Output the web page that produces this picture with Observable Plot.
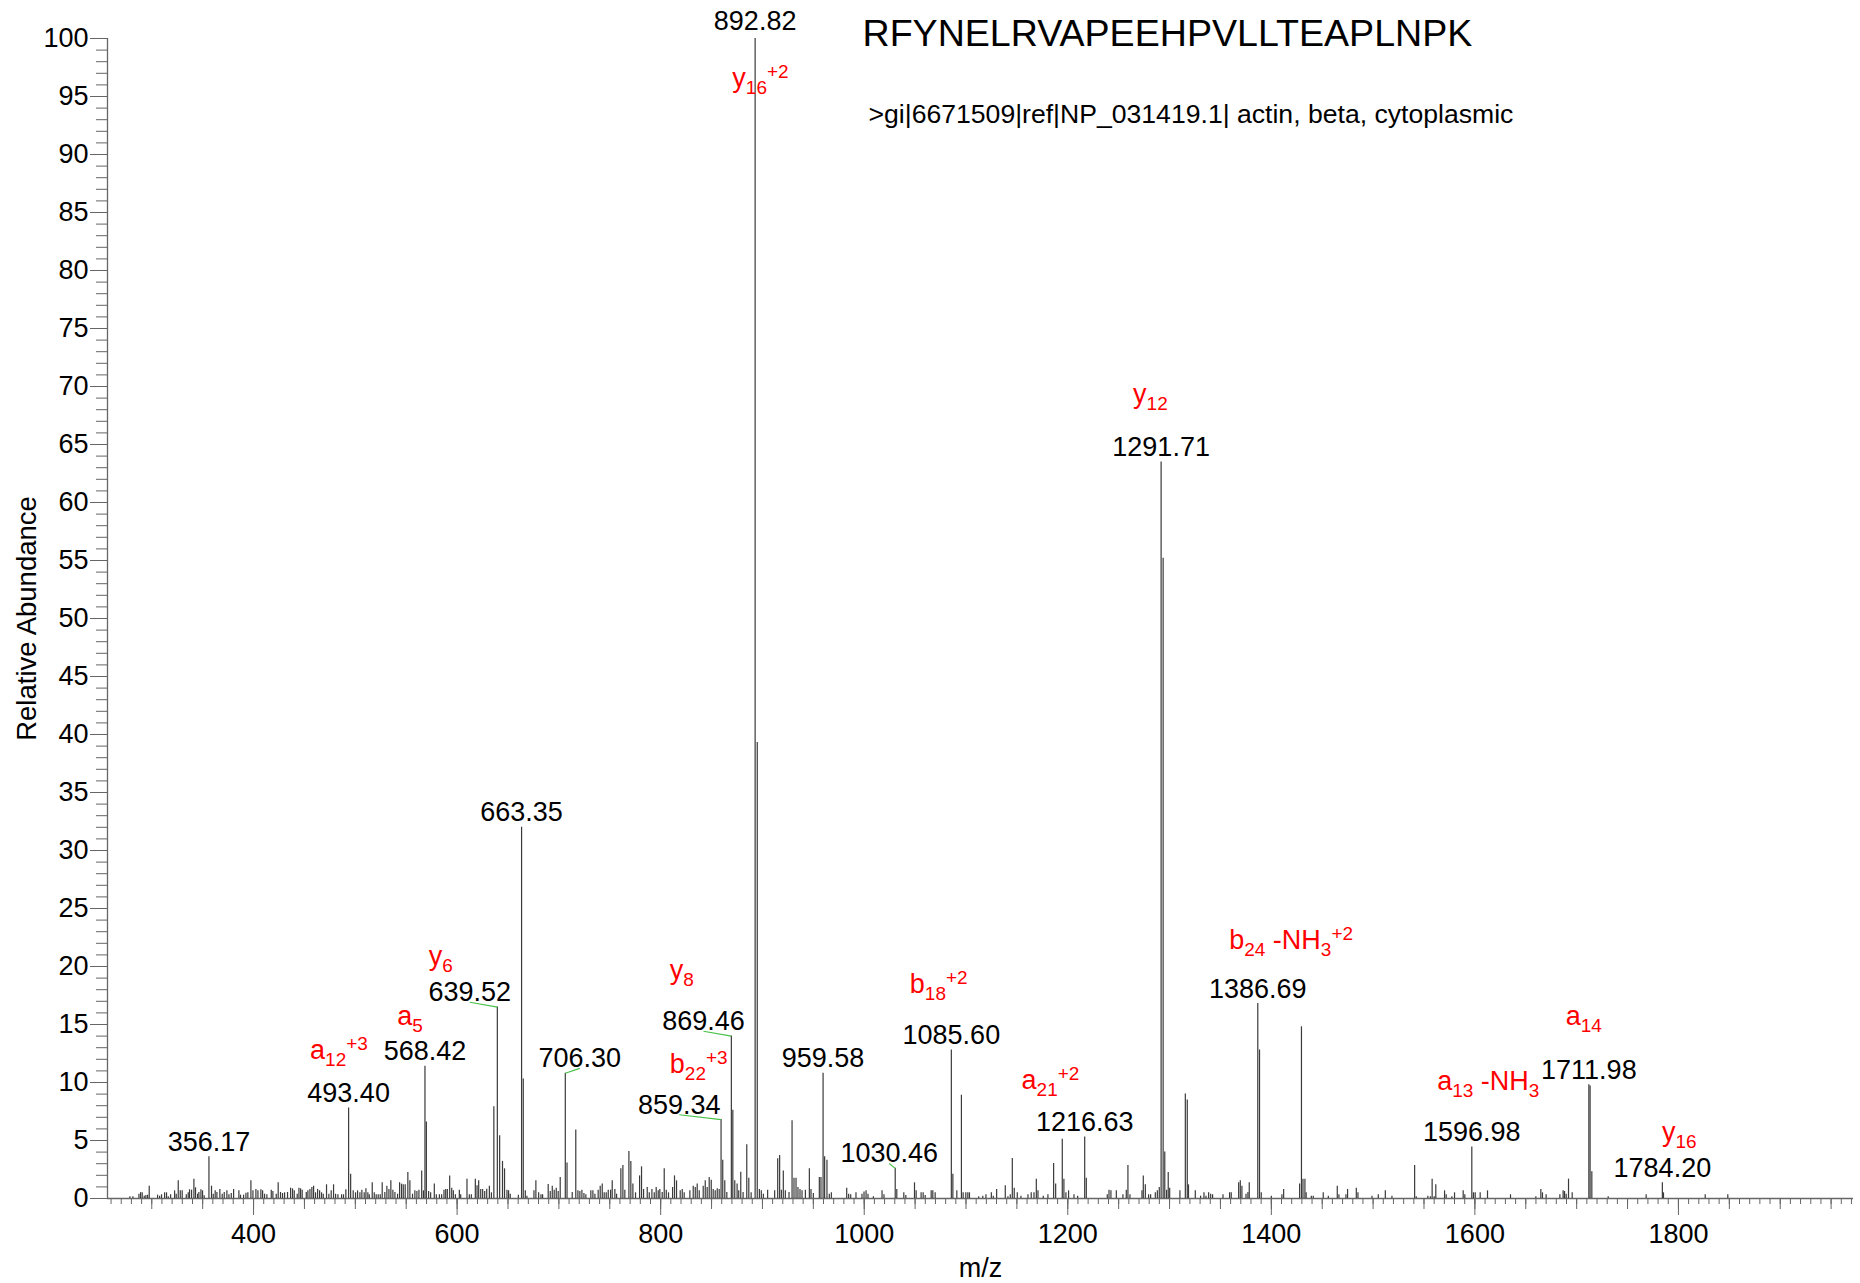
<!DOCTYPE html>
<html>
<head>
<meta charset="utf-8">
<script src="https://cdn.jsdelivr.net/npm/d3@7"></script>
<script src="https://cdn.jsdelivr.net/npm/@observablehq/plot@0.6"></script>
<style>
  html, body { margin: 0; padding: 0; background: #fff; }
  svg { display: block; }
  text { white-space: pre; }
</style>
</head>
<body>
<div id="chart"></div>
<script>
// ---------------- data ----------------
const peptide = "RFYNELRVAPEEHPVLLTEAPLNPK";
const protein = ">gi|6671509|ref|NP_031419.1| actin, beta, cytoplasmic";
const xLabel = "m/z";
const yLabel = "Relative Abundance";

// centroided peaks: m/z and relative abundance (%)
const peakMz = [
  278.5,281.5,287.4,289.0,290.6,292.6,294.2,295.9,297.5,305.7,307.7,309.6,312.6,314.5,316.2,318.5,322.4,324.0,326.0,328.0,
  329.9,333.9,335.8,337.1,339.1,341.4,343.0,345.0,346.3,348.3,349.9,351.5,356.17,358.7,360.4,362.3,364.0,366.9,369.2,371.2,
  373.8,375.8,378.1,380.4,385.6,387.2,390.2,392.5,394.4,397.4,399.4,402.3,404.3,407.2,408.9,410.8,413.1,417.4,419.0,422.3,
  424.2,426.5,428.5,430.5,433.4,436.4,438.3,440.0,442.9,444.6,446.2,447.8,451.8,453.4,455.4,457.3,459.0,460.9,462.9,464.9,
  466.8,468.5,471.7,474.0,476.3,478.6,480.6,482.9,486.5,488.4,490.7,493.40,495.4,497.9,500.2,502.2,504.5,506.4,508.7,510.4,
  512.3,513.7,516.6,518.6,520.5,522.5,524.5,526.4,529.0,531.0,533.0,534.9,536.9,538.9,541.5,543.5,545.4,547.1,549.0,551.6,
  553.6,556.2,558.5,560.5,562.5,565.2,566.9,568.42,569.8,572.0,574.0,577.6,579.6,582.6,584.8,587.1,588.8,590.4,592.7,594.7,
  596.3,598.3,602.2,603.5,609.7,612.0,614.0,617.9,619.6,621.2,623.2,625.1,627.1,629.1,631.7,633.7,636.1,639.52,641.8,644.6,
  646.6,649.0,650.6,652.2,660.2,663.35,665.0,667.0,668.6,675.5,677.4,680.1,682.4,684.0,
  689.5,691.5,693.5,695.4,697.4,699.3,701.3,706.30,708.0,713.1,716.6,718.7,720.6,722.6,724.6,726.5,731.4,733.4,735.4,738.6,
  740.6,742.6,744.5,746.5,748.5,750.8,752.4,755.0,756.7,760.9,762.9,764.8,768.8,770.7,772.7,775.3,779.3,781.2,783.2,786.8,
  788.8,791.4,793.7,795.6,797.6,799.2,801.5,803.5,805.5,807.7,811.7,813.6,815.6,819.2,821.2,823.1,828.7,832.0,834.0,835.9,
  837.9,841.8,843.8,845.7,847.7,849.7,851.6,853.6,855.6,857.5,859.34,861.0,863.0,865.0,869.46,870.9,872.8,875.1,876.7,878.7,
  881.0,884.6,886.6,888.9,892.82,894.9,897.0,898.9,900.9,905.1,912.0,915.0,916.9,918.6,920.5,922.5,926.1,929.1,931.0,933.0,
  934.9,936.9,938.9,942.2,946.1,947.7,950.0,955.9,957.5,959.58,961.1,963.4,965.7,967.7,982.8,984.7,986.7,991.9,997.8,999.8,
  1001.8,1003.7,1009.0,1017.5,1019.4,1030.46,1032.0,1038.9,1040.9,1049.4,1051.0,1055.9,1057.9,1059.9,1065.8,1067.4,1069.7,1085.60,1087.1,1091.0,
  1095.5,1097.2,1099.8,1101.8,1103.4,1112.5,1116.5,
  1119.6,1124.9,1126.8,1130.1,1138.6,1141.2,1143.5,1145.5,1147.4,1150.4,1154.0,1160.9,1164.1,1166.8,1169.1,1170.7,1175.9,1180.5,1186.1,1188.1,
  1194.6,1196.2,1198.2,1200.8,1206.1,1209.7,1216.63,1218.2,1238.8,1240.5,1242.4,1247.7,1254.2,1257.5,1259.1,1261.1,1272.9,1274.2,1276.2,1279.4,
  1281.4,1286.0,1288.0,1289.9,1291.71,1293.7,1295.3,1297.1,1298.7,1300.1,1310.2,1315.5,1317.4,1318.6,1325.3,1330.5,1333.8,1335.8,1338.4,1340.4,
  1342.3,1352.5,1359.0,1360.6,1367.9,1369.5,1371.1,1375.1,1377.0,1378.3,1386.69,1388.4,1390.1,1400.0,1410.4,1412.1,1427.8,1429.6,1431.1,1433.0,
  1434.2,1439.3,1441.2,1451.0,1456.0,1464.8,1466.4,1473.3,1474.9,1483.5,1485.1,1498.9,1505.1,1512.0,1518.5,1540.8,1542.4,
  1553.8,1556.3,1558.0,1560.0,1561.6,1570.2,1571.8,1577.4,1580.0,1588.5,1590.1,1596.98,1598.6,1600.3,1605.2,1612.4,1635.0,1659.9,1664.8,1666.4,
  1670.0,1683.5,1686.7,1688.1,1689.7,1692.0,1695.6,1711.98,1713.2,1714.9,1731.0,1768.3,1784.20,1785.3,1826.3,1848.5
];
const peakIntensity = [
  0.15,0.15,0.37,0.5,0.5,0.2,0.26,0.29,1.06,0.29,0.2,0.32,0.49,0.49,0.15,0.32,0.66,0.37,1.52,0.66,
  0.66,0.32,0.49,0.75,0.72,1.67,0.92,0.37,0.52,0.75,0.66,0.23,3.6,1.06,0.37,0.66,0.52,0.78,0.37,0.52,
  0.66,0.32,0.43,0.78,0.66,0.29,0.29,0.46,0.49,1.52,0.66,0.78,0.66,0.75,0.66,0.37,0.32,0.72,0.6,0.37,
  1.35,0.52,0.43,0.49,0.52,0.89,0.83,0.66,0.37,0.89,0.83,0.72,0.52,0.66,0.78,0.95,1.06,0.49,0.78,0.66,
  0.49,0.37,1.18,0.37,0.66,1.18,0.37,0.32,0.32,0.32,0.75,7.8,2.1,0.66,0.49,0.66,0.49,0.72,0.49,0.83,
  0.49,0.32,1.35,0.49,0.32,0.32,0.32,1.35,0.52,1.06,0.78,1.52,0.72,0.52,0.37,1.35,1.24,1.18,1.18,2.24,
  1.52,0.37,0.66,0.6,0.72,2.38,0.66,11.4,6.6,0.6,0.49,1.24,0.32,0.32,0.32,0.72,0.78,0.78,1.95,0.89,
  0.66,0.32,0.72,0.32,1.67,0.32,0.32,1.67,1.09,1.52,0.78,0.78,0.6,0.8,1.06,0.49,7.9,16.5,5.4,3.2,
  2.56,0.72,0.66,0.37,0.29,32.0,10.3,0.66,0.2,0.66,1.52,0.49,0.32,0.32,
  1.2,0.6,1.06,0.72,0.89,0.6,1.81,10.8,3.05,0.52,5.9,0.66,0.6,0.72,0.43,0.32,0.66,0.66,0.37,0.72,
  1.06,1.24,0.49,0.49,0.72,0.72,1.52,0.78,0.37,2.56,2.84,0.72,4.05,3.19,1.24,0.49,1.95,2.73,0.78,0.95,
  0.49,0.78,0.49,0.95,0.66,0.78,0.52,2.56,0.72,0.49,0.95,1.95,1.52,0.66,0.78,0.49,0.66,1.06,0.95,1.24,
  0.66,1.06,1.52,0.95,1.81,1.58,0.78,0.66,0.83,0.78,6.8,3.3,1.52,0.52,14.0,7.6,1.52,1.24,0.66,2.27,
  0.52,4.63,1.75,0.49,100,39.3,0.78,0.66,0.37,0.72,0.66,3.42,3.7,0.72,2.38,0.66,0.52,6.7,1.75,1.75,
  0.95,0.78,0.66,0.72,2.56,0.78,0.43,1.81,1.81,10.8,3.59,3.3,0.37,0.49,0.89,0.37,0.32,0.49,0.37,0.55,
  0.66,0.37,0.15,0.66,0.32,2.6,0.78,0.49,0.26,1.35,0.66,0.49,0.49,0.26,0.66,0.66,0.49,12.8,2.1,0.66,
  8.9,0.49,0.49,0.49,0.49,0.15,0.2,
  0.32,0.49,0.2,0.78,1.09,0.15,0.32,3.45,0.89,0.49,0.2,0.32,0.49,0.49,1.67,0.66,0.2,0.32,3.02,1.24,
  5.11,1.67,0.49,0.66,0.32,0.2,5.3,1.75,0.32,0.72,0.66,0.66,0.32,0.72,2.84,0.32,0.66,1.95,1.18,0.32,
  0.32,0.49,0.66,0.95,63.5,55.2,4.0,0.72,2.24,0.89,0.66,9.0,8.5,1.18,0.66,0.2,0.49,0.2,0.49,0.37,
  0.32,0.32,0.49,0.49,1.35,1.52,1.06,0.37,0.52,1.35,16.8,12.8,0.49,0.2,0.32,0.78,1.24,14.8,1.67,1.67,
  0.49,0.2,0.2,0.49,0.2,1.06,0.32,0.32,0.78,0.89,0.49,0.2,0.32,0.66,0.2,2.84,0.15,
  0.2,0.15,1.67,0.15,1.18,0.66,0.32,0.15,0.49,0.66,0.32,4.45,0.49,0.49,0.49,0.66,0.32,0.15,0.78,0.49,
  0.32,0.32,0.66,0.6,0.37,1.67,0.49,9.8,9.7,2.3,0.15,0.32,1.35,0.49,0.32,0.32
];

// labelled peaks (black m/z labels)
const labelMz        = [356.17, 493.40, 568.42, 639.52, 663.35, 706.30, 859.34, 869.46, 892.82, 959.58, 1030.46, 1085.60, 1216.63, 1291.71, 1386.69, 1596.98, 1711.98, 1784.20];
const labelIntensity = [3.6, 7.8, 11.4, 16.5, 32.0, 10.8, 6.8, 14.0, 100, 10.8, 2.6, 12.8, 5.3, 63.5, 16.8, 4.45, 9.8, 1.35];
// m/z at which each label text is centred (differs from the peak where a leader line is drawn)
const labelAtMz      = [356.17, 493.40, 568.42, 612.5, 663.35, 720.5, 818.3, 842.1, 892.82, 959.58, 1024.6, 1085.60, 1216.63, 1291.71, 1386.69, 1596.98, 1711.98, 1784.20];

// fragment ion assignments (red)
const ionText   = ["a_{12}^{+3}", "a_{5}", "y_{6}", "b_{22}^{+3}", "y_{8}", "y_{16}^{+2}", "b_{18}^{+2}", "a_{21}^{+2}", "y_{12}", "b_{24} -NH_{3}^{+2}", "a_{13} -NH_{3}", "a_{14}", "y_{16}"];
const ionPeakMz = [493.40, 568.42, 639.52, 859.34, 869.46, 892.82, 1085.60, 1216.63, 1291.71, 1386.69, 1596.98, 1711.98, 1784.20];
const ionAtMz   = [455.5, 541.2, 572.2, 809.0, 809.0, 870.4, 1044.8, 1154.6, 1264.2, 1358.6, 1562.9, 1689.2, 1783.9];

const xMajorTicks = [400, 600, 800, 1000, 1200, 1400, 1600, 1800];
const yMajorTicks = [0,5,10,15,20,25,30,35,40,45,50,55,60,65,70,75,80,85,90,95,100];

// ---------------- layout (pixels) ----------------
const W = 1860, H = 1283;
const ionDy = [-49, -41, -42, -47, -57, 48, -57, -48, -59, -55, -57, -60, -42];
const FONT = "'Liberation Sans', Arial, Helvetica, sans-serif";
const AXIS = "#666";

// ---------------- build tables ----------------
const peaks = peakMz.map((mz, i) => ({mz, h: peakIntensity[i]}));
const labels = labelMz.map((mz, i) => ({mz, h: labelIntensity[i], at: labelAtMz[i], text: mz.toFixed(2)}));
const leaders = labels.filter(d => d.at !== d.mz);
const ions = ionText.map((t, i) => ({
  text: t,
  at: ionAtMz[i],
  h: labelIntensity[labelMz.indexOf(ionPeakMz[i])],
  dy: ionDy[i]
}));

const xDomain = [256.5, 1972];
const d3range = (a, b, s) => d3.range(a, b + 1e-9, s);

const chart = Plot.plot({
  width: W,
  height: H,
  marginLeft: 107,
  marginRight: 7,
  marginTop: 38,
  marginBottom: 85,
  style: {fontFamily: FONT, fontSize: "27px", background: "#fff", color: "#000"},
  x: {domain: xDomain, axis: null},
  y: {domain: [0, 100], axis: null},
  marks: [
    // axes: minor / medium / major ticks
    Plot.axisY(d3range(0, 100, 1), {anchor: "left", tickSize: 11, text: null, label: null, stroke: AXIS}),
    Plot.axisY(yMajorTicks, {anchor: "left", tickSize: 17, tickPadding: 2, label: null, stroke: AXIS, fill: "#000", fontSize: 27, tickFormat: d => String(d)}),
    Plot.axisX(d3range(260, 1970, 10), {anchor: "bottom", tickSize: 6, text: null, label: null, stroke: AXIS}),
    Plot.axisX(d3range(300, 1950, 50), {anchor: "bottom", tickSize: 11, text: null, label: null, stroke: AXIS}),
    Plot.axisX(xMajorTicks, {anchor: "bottom", tickSize: 17, tickPadding: 8, label: null, stroke: AXIS, fill: "#000", fontSize: 27, tickFormat: d => String(d)}),
    Plot.ruleY([0], {stroke: AXIS, strokeWidth: 1.3}),
    Plot.ruleX([xDomain[0]], {y1: 0, y2: 100, stroke: AXIS, strokeWidth: 1.3}),
    // spectrum sticks
    Plot.ruleX(peaks, {x: "mz", y1: 0, y2: "h", stroke: "#3a3a3a", strokeWidth: 1.2}),
    // leader lines
    Plot.link(leaders, {x1: "at", y1: d => d.h + 0.42, x2: "mz", y2: "h", stroke: "#47c047", strokeWidth: 1.2}),
    // m/z labels
    Plot.text(labels.filter(d => d.h < 100), {x: "at", y: "h", text: "text", dy: -6, lineAnchor: "bottom", textAnchor: "middle", fontSize: 27, fill: "#000"}),
    Plot.text(labels.filter(d => d.h >= 100), {x: "at", y: "h", text: "text", dy: -9, lineAnchor: "bottom", textAnchor: "middle", fontSize: 27, fill: "#000"}),
    // ion labels
    Plot.text(ions, {x: "at", y: "h", text: "text", lineAnchor: "bottom", textAnchor: "start", fontSize: 27, fill: "#ff0000"}),
    // axis titles
    Plot.text([xLabel], {frameAnchor: "bottom", dy: 78, lineAnchor: "bottom", textAnchor: "middle", fontSize: 27, fill: "#000"}),
    Plot.text([yLabel], {frameAnchor: "left", dx: -72, rotate: -90, lineAnchor: "bottom", textAnchor: "middle", fontSize: 27.5, fill: "#000"}),
    // title & protein
    Plot.text([peptide], {frameAnchor: "top-left", dx: 755, dy: 7, lineAnchor: "bottom", textAnchor: "start", fontSize: 37.6, fill: "#000"}),
    Plot.text([protein], {frameAnchor: "top-left", dx: 761, dy: 84, lineAnchor: "bottom", textAnchor: "start", fontSize: 26.6, fill: "#000"})
  ]
});

document.getElementById("chart").appendChild(chart);

// apply per-label vertical offsets and sub/superscripts to the ion labels
const svgNS = "http://www.w3.org/2000/svg";
const SMALL = 19, SUB = 7, SUP = -9;
const ionNodes = Array.from(chart.querySelectorAll("text")).filter(t => /[_^]\{/.test(t.textContent));
ionNodes.forEach((node) => {
  const raw = node.textContent;
  const ion = ions.find(d => d.text === raw && !d.used);
  if (ion) { ion.used = true; node.setAttribute("transform", (node.getAttribute("transform") || "") + ` translate(0,${ion.dy})`); }
  const parts = raw.match(/_\{[^}]*\}|\^\{[^}]*\}|[^_^]+/g);
  node.textContent = "";
  let shift = 0;
  for (const p of parts) {
    let target = 0, content = p, small = false;
    if (p.startsWith("_{")) { target = SUB; content = p.slice(2, -1); small = true; }
    else if (p.startsWith("^{")) { target = SUP; content = p.slice(2, -1); small = true; }
    const ts = document.createElementNS(svgNS, "tspan");
    if (target - shift !== 0) ts.setAttribute("dy", target - shift);
    if (small) ts.setAttribute("font-size", SMALL);
    ts.textContent = content;
    node.appendChild(ts);
    shift = target;
  }
});
</script>
</body>
</html>
